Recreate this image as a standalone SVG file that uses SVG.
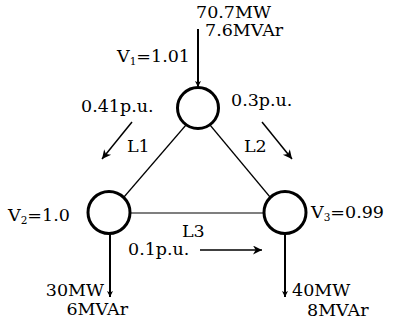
<svg xmlns="http://www.w3.org/2000/svg" width="394" height="325" viewBox="0 0 394 325">
<style>
text{font-family:"DejaVu Serif","Liberation Serif",serif;font-size:17.5px;fill:#000}
.bus{fill:#fff;stroke:#000;stroke-width:3}
.line{stroke:#000;stroke-width:1.2;fill:none}
.arr{stroke:#000;stroke-width:2;fill:none;marker-end:url(#ah)}
.farr{stroke:#000;stroke-width:1.5;fill:none;marker-end:url(#ah2)}
.sub{font-size:10.5px}
</style>
<defs>
<marker id="ah" viewBox="0 0 10 10" refX="10" refY="5" markerWidth="6" markerHeight="8" markerUnits="userSpaceOnUse" orient="auto">
<path d="M0,0 L10,5 L0,10 L2.5,5 Z" fill="#000"/>
</marker>
<marker id="ah2" viewBox="0 0 10 10" refX="10" refY="5" markerWidth="12" markerHeight="9" markerUnits="userSpaceOnUse" orient="auto">
<path d="M0,0 L10,5 L0,10 L3,5 Z" fill="#000"/>
</marker>
</defs>
<g id="connectors">
<line class="line" x1="186" y1="125" x2="124" y2="197"/>
<line class="line" x1="210" y1="125" x2="270" y2="197"/>
<line class="line" x1="131" y1="213" x2="264" y2="213"/>
<line class="arr" x1="198" y1="29" x2="198" y2="87"/>
<line class="arr" x1="110" y1="234" x2="110" y2="297"/>
<line class="arr" x1="285" y1="234" x2="285" y2="297"/>
<line class="farr" x1="132" y1="122" x2="102" y2="159"/>
<line class="farr" x1="262" y1="122" x2="292" y2="159"/>
<line class="farr" x1="200" y1="250" x2="262" y2="250"/>
</g>
<g id="bus1">
<circle class="bus" cx="198" cy="108" r="20.5"/>
<text x="196" y="18">70.7MW</text>
<text x="205" y="36">7.6MVAr</text>
<text x="117" y="62">V<tspan class="sub" dy="3">1</tspan><tspan dy="-3">=1.01</tspan></text>
</g>
<g id="bus2">
<circle class="bus" cx="109" cy="212.5" r="21"/>
<text x="8" y="221">V<tspan class="sub" dy="3">2</tspan><tspan dy="-3">=1.0</tspan></text>
<text x="104" y="296" text-anchor="end">30MW</text>
<text x="128" y="315" text-anchor="end">6MVAr</text>
</g>
<g id="bus3">
<circle class="bus" cx="285" cy="212.5" r="21"/>
<text x="311" y="218">V<tspan class="sub" dy="3">3</tspan><tspan dy="-3">=0.99</tspan></text>
<text x="292" y="296">40MW</text>
<text x="307" y="316">8MVAr</text>
</g>
<g id="labels">
<text x="81" y="112">0.41p.u.</text>
<text x="231" y="106">0.3p.u.</text>
<text x="127" y="152">L1</text>
<text x="244" y="152">L2</text>
<text x="182" y="237">L3</text>
<text x="128" y="255">0.1p.u.</text>
</g>
</svg>
